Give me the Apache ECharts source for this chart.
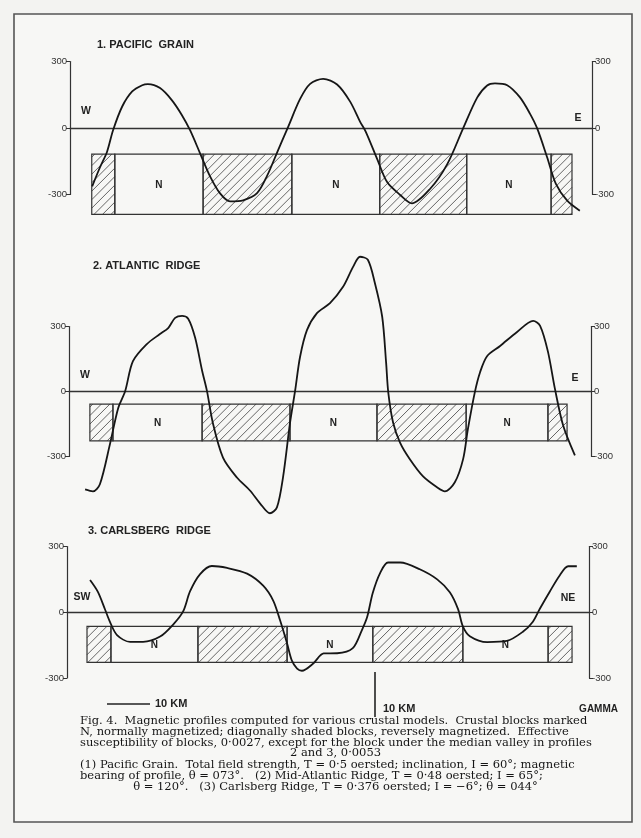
<!DOCTYPE html>
<html>
<head>
<meta charset="utf-8">
<script src="https://cdn.jsdelivr.net/npm/echarts@6/dist/echarts.min.js"></script>
<style>
html,body{margin:0;padding:0;background:#f3f3f1;}
#c{width:641px;height:838px;}
</style>
</head>
<body>
<div id="c"></div>
<script>
// ---------- DATA ----------
const xRangeKm = [0, 120];          // distance along profile, km
const yTickValues = [-300, 0, 300]; // gammas
const panelTitles = ['1. PACIFIC  GRAIN', '2. ATLANTIC  RIDGE', '3. CARLSBERG  RIDGE'];
const panelEnds = [['W', 'E'], ['W', 'E'], ['SW', 'NE']];

// Profile 1: Pacific Grain (km, gamma)
const pacificKm = [5.1, 6.9, 8.5, 9.9, 12.0, 14.3, 16.6, 17.9, 20.7, 23.4, 25.7, 27.6, 29.9, 32.2, 34.5, 36.8, 39.8, 43.0, 45.3, 47.6, 50.1, 52.9, 55.2, 58.2, 61.4, 64.4, 66.7, 68.0, 70.6, 72.9, 75.9, 78.6, 82.8, 86.7, 90.3, 93.6, 95.9, 97.7, 100.5, 103.4, 105.7, 107.4, 109.7, 111.7, 114.3, 117.2];
const pacificGamma = [-263, -177, -108, -10, 97, 165, 193, 198, 180, 126, 59, -10, -114, -218, -295, -331, -326, -294, -216, -111, 3, 131, 199, 222, 196, 119, 28, -17, -139, -244, -302, -340, -274, -164, -5, 137, 192, 201, 193, 139, 66, -2, -133, -252, -328, -373];

// Profile 2: Atlantic Ridge
const atlanticKm = [3.7, 5.5, 7.1, 9.4, 11.3, 12.9, 14.7, 17.9, 20.9, 22.8, 24.4, 26.0, 27.4, 29.0, 30.6, 31.7, 33.1, 35.4, 38.6, 41.6, 43.9, 46.2, 47.8, 49.2, 50.8, 52.0, 53.1, 54.7, 57.0, 60.0, 63.0, 65.3, 66.9, 68.7, 70.3, 72.0, 72.9, 73.4, 74.5, 76.1, 78.4, 81.4, 84.6, 86.4, 88.7, 90.6, 91.7, 93.3, 94.5, 96.1, 99.1, 103.0, 106.7, 108.3, 110.1, 111.7, 113.6, 116.3];
const atlanticGamma = [-452, -461, -428, -244, -77, 1, 140, 219, 265, 293, 340, 349, 336, 248, 96, 4, -148, -305, -397, -457, -516, -562, -535, -396, -146, 6, 158, 283, 362, 408, 483, 575, 622, 608, 502, 345, 133, -5, -143, -236, -314, -392, -442, -461, -419, -312, -174, -3, 89, 163, 210, 275, 326, 303, 184, 13, -157, -295];

// Profile 3: Carlsberg Ridge
const carlsbergKm = [5.3, 7.1, 8.7, 9.9, 11.5, 14.5, 17.5, 21.4, 24.4, 26.7, 28.3, 30.6, 33.3, 36.8, 41.4, 45.1, 47.4, 49.0, 50.6, 51.7, 52.9, 54.0, 56.6, 59.0, 62.1, 65.7, 67.8, 69.0, 70.3, 72.0, 73.8, 76.6, 81.1, 85.1, 88.0, 89.9, 91.0, 92.6, 96.6, 101.1, 104.8, 107.1, 108.7, 111.0, 113.3, 115.2, 117.2];
const carlsbergGamma = [147, 93, 15, -45, -104, -135, -135, -111, -56, 4, 96, 174, 211, 202, 176, 121, 53, -38, -143, -221, -257, -267, -234, -188, -187, -164, -81, -22, 89, 180, 227, 227, 196, 150, 91, 14, -64, -109, -136, -131, -89, -43, 16, 95, 169, 210, 210];

// Crustal blocks: boundaries (km), polarity (N = normal, R = reversed), top/bottom (gamma-scale units)
const blockPolarity = ['R', 'N', 'R', 'N', 'R', 'N', 'R'];
const pacificBlockEdges = [5.0, 10.3, 30.6, 51.0, 71.2, 91.2, 110.6, 115.4];
const pacificBlockDepth = [-118, -390];
const atlanticBlockEdges = [4.8, 10.1, 30.6, 50.8, 70.8, 91.3, 110.1, 114.5];
const atlanticBlockDepth = [-58, -228];
const carlsbergBlockEdges = [4.6, 10.1, 30.1, 50.6, 70.3, 91.0, 110.6, 116.1];
const carlsbergBlockDepth = [-64, -229];

const captionLines = [
  'Fig. 4.  Magnetic profiles computed for various crustal models.  Crustal blocks marked',
  'N, normally magnetized; diagonally shaded blocks, reversely magnetized.  Effective',
  'susceptibility of blocks, 0·0027, except for the block under the median valley in profiles',
  '2 and 3, 0·0053',
  '(1) Pacific Grain.  Total field strength, T = 0·5 oersted; inclination, I = 60°; magnetic',
  'bearing of profile, θ = 073°.   (2) Mid-Atlantic Ridge, T = 0·48 oersted; I = 65°;',
  'θ = 120°.   (3) Carlsberg Ridge, T = 0·376 oersted; I = −6°; θ = 044°'
];

// ---------- LAYOUT / STYLE ----------
const INK = '#222';
const grids = [
  {left: 70, top: 61.5, width: 522, height: 133},
  {left: 69, top: 326.5, width: 522, height: 130},
  {left: 67, top: 546.5, width: 522, height: 131.5}
];
const profiles = [
  {km: pacificKm, g: pacificGamma, edges: pacificBlockEdges, depth: pacificBlockDepth},
  {km: atlanticKm, g: atlanticGamma, edges: atlanticBlockEdges, depth: atlanticBlockDepth},
  {km: carlsbergKm, g: carlsbergGamma, edges: carlsbergBlockEdges, depth: carlsbergBlockDepth}
];

function renderBlock(params, api) {
  const x0 = api.value(0), x1 = api.value(1), hatched = api.value(2);
  const pA = api.coord([x0, api.value(3)]);
  const pB = api.coord([x1, api.value(4)]);
  const xa = pA[0], ya = pA[1], xb = pB[0], yb = pB[1];
  const children = [];
  if (hatched) {
    const step = 8.5;
    for (let c = xa + ya + 3; c < xb + yb; c += step) {
      const sx = Math.max(xa, c - yb), ex = Math.min(xb, c - ya);
      if (ex > sx) {
        children.push({type: 'line', shape: {x1: sx, y1: c - sx, x2: ex, y2: c - ex},
          style: {stroke: '#555', lineWidth: 0.9}});
      }
    }
  } else {
    children.push({type: 'text', style: {text: 'N', x: (xa + xb) / 2, y: (ya + yb) / 2 + 1,
      align: 'center', verticalAlign: 'middle', fill: INK,
      font: 'bold 10px "Liberation Sans", Arial, sans-serif'}});
  }
  children.push({type: 'rect', shape: {x: xa, y: ya, width: xb - xa, height: yb - ya},
    style: {fill: 'none', stroke: '#333', lineWidth: 1.2}});
  return {type: 'group', children: children};
}

const xAxes = [], yAxes = [], series = [];
grids.forEach((gr, i) => {
  xAxes.push({
    type: 'value', gridIndex: i, min: xRangeKm[0], max: xRangeKm[1],
    axisLine: {show: true, onZero: true, onZeroAxisIndex: 2 * i, lineStyle: {color: '#333', width: 1.3}},
    axisTick: {show: false}, axisLabel: {show: false}, splitLine: {show: false}
  });
  ['left', 'right'].forEach(pos => {
    yAxes.push({
      type: 'value', gridIndex: i, position: pos,
      min: yTickValues[0], max: yTickValues[2], interval: 300,
      axisLine: {show: true, onZero: false, lineStyle: {color: '#333', width: 1.2}},
      axisTick: {show: true, length: 4, lineStyle: {color: '#333', width: 1}},
      axisLabel: {show: true, fontSize: 9.5, color: '#333', margin: 3,
        fontFamily: '"Liberation Sans", Arial, sans-serif'},
      splitLine: {show: false}
    });
  });
  const p = profiles[i];
  const blocks = blockPolarity.map((pol, k) => [p.edges[k], p.edges[k + 1], pol === 'R' ? 1 : 0, p.depth[0], p.depth[1]]);
  series.push({
    type: 'custom', xAxisIndex: i, yAxisIndex: 2 * i, clip: false, z: 2,
    renderItem: renderBlock, encode: {x: [0, 1], y: [3, 4]}, data: blocks, silent: true
  });
  series.push({
    type: 'line', xAxisIndex: i, yAxisIndex: 2 * i, clip: false, z: 3,
    data: p.km.map((x, k) => [x, p.g[k]]),
    smooth: 0.3, showSymbol: false, symbol: 'none',
    lineStyle: {color: '#161616', width: 1.8}, silent: true
  });
});

// caption fitting
const meas = document.createElement('canvas').getContext('2d');
const capFamily = '"DejaVu Serif", "Liberation Serif", serif';
function fitSize(text, width) {
  meas.font = '10px ' + capFamily;
  const w = meas.measureText(text).width;
  return Math.max(8.5, Math.min(11.5, 10 * width / w));
}
const capLeft = 80, capWidth = 523;
const capY = [721, 732, 743, 753.5, 765, 776, 787];
const justified = [true, true, true, false, true, true, false];
const baseSize = fitSize(captionLines[2], capWidth);
const graphics = [];
graphics.push({type: 'rect', shape: {x: 14, y: 14, width: 618, height: 808}, z: -10,
  style: {fill: '#f7f7f5', stroke: '#555', lineWidth: 1.6}, silent: true});
captionLines.forEach((t, k) => {
  const size = justified[k] ? fitSize(t, capWidth) : baseSize;
  graphics.push({type: 'text', z: 10, style: {
    text: t, x: justified[k] ? capLeft : capLeft + capWidth / 2 - 6, y: capY[k],
    align: justified[k] ? 'left' : 'center', verticalAlign: 'middle',
    font: size.toFixed(2) + 'px ' + capFamily, fill: '#151515'}});
});
const labFont = '11px "Liberation Sans", Arial, sans-serif';
const titlePos = [[97, 45], [93, 266], [88, 531]];
const endPos = [[[86, 111], [578, 118]], [[85, 375], [575, 378]], [[82, 597], [568, 598]]];
panelTitles.forEach((t, i) => {
  graphics.push({type: 'text', z: 10, style: {text: t, x: titlePos[i][0], y: titlePos[i][1],
    verticalAlign: 'middle', font: 'bold ' + labFont, fill: INK}});
  panelEnds[i].forEach((e, j) => {
    graphics.push({type: 'text', z: 10, style: {text: e, x: endPos[i][j][0], y: endPos[i][j][1],
      align: 'center', verticalAlign: 'middle', font: 'bold 10.5px "Liberation Sans", Arial, sans-serif', fill: INK}});
  });
});
// scale bars
graphics.push({type: 'line', shape: {x1: 107, y1: 704, x2: 150, y2: 704}, style: {stroke: INK, lineWidth: 1.4}});
graphics.push({type: 'text', style: {text: '10 KM', x: 155, y: 704, verticalAlign: 'middle', font: 'bold ' + labFont, fill: INK}});
graphics.push({type: 'line', shape: {x1: 375, y1: 672, x2: 375, y2: 717}, style: {stroke: INK, lineWidth: 1.6}});
graphics.push({type: 'text', style: {text: '10 KM', x: 383, y: 709, verticalAlign: 'middle', font: 'bold ' + labFont, fill: INK}});
graphics.push({type: 'text', style: {text: 'GAMMA', x: 618, y: 709, align: 'right', verticalAlign: 'middle', font: 'bold 10px "Liberation Sans", Arial, sans-serif', fill: INK}});

const chart = echarts.init(document.getElementById('c'), null, {renderer: 'canvas'});
chart.setOption({
  animation: false,
  backgroundColor: '#f3f3f1',
  grid: grids.map(g => Object.assign({outerBoundsMode: 'none', containLabel: false}, g)),
  xAxis: xAxes,
  yAxis: yAxes,
  series: series,
  graphic: graphics
});
</script>
</body>
</html>
